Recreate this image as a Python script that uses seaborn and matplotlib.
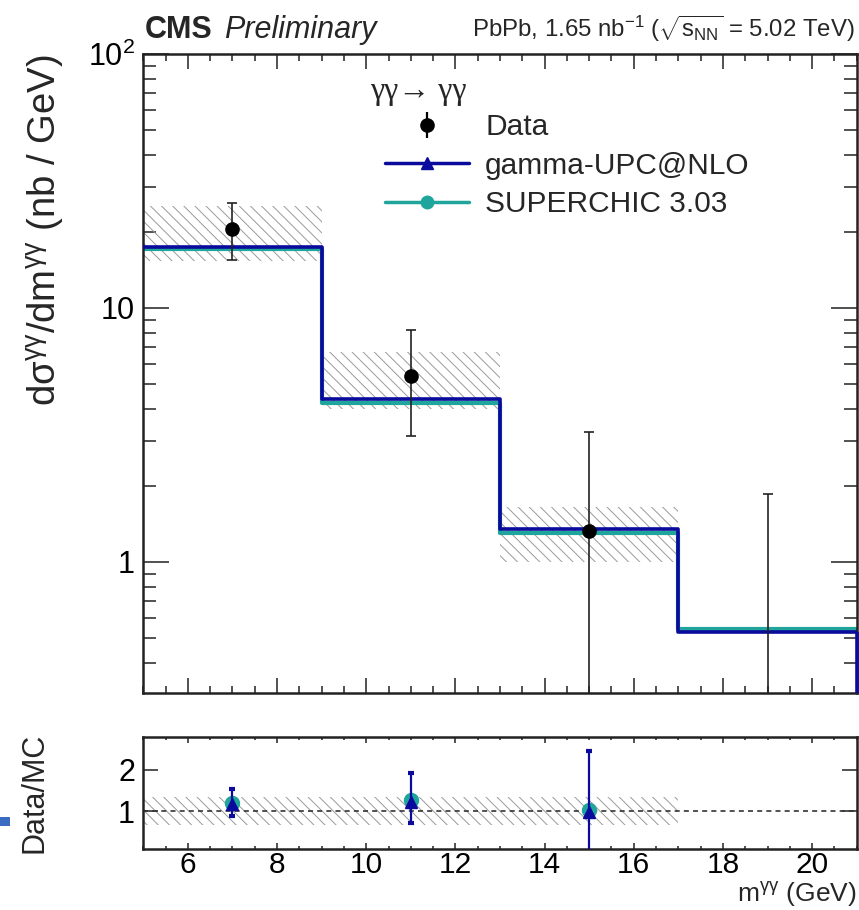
import numpy as np
import matplotlib
matplotlib.use("Agg")
import matplotlib.pyplot as plt
import seaborn as sns
from matplotlib.ticker import MultipleLocator, LogLocator, NullFormatter, FixedLocator, FuncFormatter
from matplotlib.lines import Line2D
from matplotlib.patches import Rectangle

# ---------------- data ----------------
bin_edges = [5, 9, 13, 17, 21]
bin_centers = [7, 11, 15, 19]
gamma_upc = [17.4, 4.40, 1.35, 0.53]
superchic = [17.0, 4.22, 1.30, 0.545]

data_x = [7, 11, 15, 19]
data_y = [20.5, 5.39, 1.33, 0.0]
data_err_up = [5.5, 2.8, 1.91, 1.86]
data_err_dn = [5.0, 2.27, 1.33, 0.0]

syst_centers = [7, 11, 15]
syst_lo = [15.3, 4.0, 1.0]
syst_hi = [25.1, 6.7, 1.64]

ratio_x = [7, 11, 15]
ratio_upc = [1.18, 1.22, 0.99]
ratio_sc = [1.21, 1.28, 1.03]
ratio_err_up = [0.36, 0.70, 1.46]
ratio_err_dn = [0.30, 0.51, 0.99]
ratio_band_lo = [0.66, 0.66, 0.66]
ratio_band_hi = [1.34, 1.34, 1.34]

x_ticks = [6, 8, 10, 12, 14, 16, 18, 20]

# ---------------- style ----------------
sns.set_theme(style="ticks")
plt.rcParams['font.family'] = ['Liberation Sans', 'DejaVu Sans']
plt.rcParams['mathtext.fontset'] = 'custom'
plt.rcParams['mathtext.rm'] = 'Liberation Sans'
plt.rcParams['mathtext.it'] = 'Liberation Sans:italic'
plt.rcParams['mathtext.bf'] = 'Liberation Sans:bold'
plt.rcParams['mathtext.default'] = 'regular'
plt.rcParams['hatch.linewidth'] = 0.7

NAVY = '#0a0a9c'
TEAL = '#1fa59c'
HATCH = '#9a9a9a'

W, H = 859, 910
fig = plt.figure(figsize=(W / 100, H / 100), dpi=100)
L, R = 143.3, 856.7
ax = fig.add_axes([L / W, 1 - 693.3 / H, (R - L) / W, (693.3 - 54) / H])
ax2 = fig.add_axes([L / W, 1 - 849.3 / H, (R - L) / W, (849.3 - 736.7) / H])

# ---------------- main panel ----------------
ax.bar(syst_centers, np.subtract(syst_hi, syst_lo), bottom=syst_lo, width=4,
       fill=False, hatch='\\\\\\', edgecolor=HATCH, linewidth=0, zorder=1)

sns.histplot(x=bin_centers, weights=superchic, bins=bin_edges, element="step",
             fill=False, color=TEAL, linewidth=3.0, ax=ax, zorder=2)
sns.histplot(x=bin_centers, weights=gamma_upc, bins=bin_edges, element="step",
             fill=False, color=NAVY, linewidth=2.6, ax=ax, zorder=3)

ax.set_yscale('log')
ymin, ymax = 0.304, 100
ax.set_ylim(ymin, ymax)
ax.set_xlim(bin_edges[0], bin_edges[-1])
ax.vlines(bin_edges[-1], ymin, gamma_upc[-1], color=NAVY, linewidth=2.6, zorder=3, clip_on=False)

ax.errorbar(data_x, data_y, yerr=[data_err_dn, data_err_up], fmt='o', color='black',
            ecolor='#222222', markersize=9.5, elinewidth=1.2, capsize=3.5, capthick=1.2, zorder=5)

ax.set_xlabel('')
ax.set_ylabel("dσ$^{γγ}$/dm$^{γγ}$ (nb / GeV)", fontsize=27.5, loc='top')
ax.yaxis.set_label_coords(-0.107, 1.0)

ax.yaxis.set_major_locator(FixedLocator([1, 10, 100]))
ax.yaxis.set_major_formatter(FuncFormatter(lambda v, p: {1: '1', 10: '10', 100: '10$^{2}$'}.get(int(round(v)), '')))
ax.yaxis.set_minor_locator(LogLocator(base=10, subs=np.arange(2, 10), numticks=20))
ax.yaxis.set_minor_formatter(NullFormatter())
ax.xaxis.set_major_locator(FixedLocator(x_ticks))
ax.xaxis.set_minor_locator(MultipleLocator(0.5))

ax.tick_params(which='both', direction='in', top=True, right=True, labelbottom=False,
               width=1.1, colors='#222222', labelcolor='black')
ax.tick_params(axis='y', which='major', length=18.5, labelsize=22, pad=6)
ax.tick_params(axis='y', which='minor', length=9.5)
ax.tick_params(axis='x', which='major', length=11)
ax.tick_params(axis='x', which='minor', length=5)
for s in ax.spines.values():
    s.set_linewidth(1.8)
    s.set_color('#222222')

data_handle = (Line2D([], [], color='black', marker='|', markersize=19, mew=1.6, linestyle='None'),
               Line2D([], [], color='black', marker='o', markersize=9.5, linestyle='None'))
handles = [
    data_handle,
    Line2D([], [], color=NAVY, lw=2.5, marker='^', markersize=9),
    Line2D([], [], color=TEAL, lw=2.5, marker='o', markersize=9),
]
labels = ['Data', 'gamma-UPC@NLO', 'SUPERCHIC 3.03']
leg = fig.legend(handles, labels, loc='upper left', bbox_to_anchor=(385 / W, 1 - 113 / H),
                 frameon=False, fontsize=21.5, handlelength=2.8, handletextpad=0.55,
                 labelspacing=0.36, borderpad=0, borderaxespad=0)
fig.text(370 / W, 1 - 99 / H, "γγ→ γγ", fontsize=23, family=['Liberation Serif', 'DejaVu Serif'],
         va='baseline', ha='left')

# ---------------- header ----------------
fig.text(145 / W, 1 - 38 / H, "CMS", fontsize=22, fontweight='bold', va='baseline', ha='left')
fig.text(224 / W, 1 - 38 / H, "Preliminary", fontsize=22, fontstyle='italic', va='baseline', ha='left')
fig.text(855 / W, 1 - 37 / H, r"PbPb, 1.65 nb$^{-1}$ ($\sqrt{s_{NN}}$ = 5.02 TeV)",
         fontsize=17.3, va='baseline', ha='right')

# ---------------- ratio panel ----------------
ax2.bar(ratio_x, np.subtract(ratio_band_hi, ratio_band_lo), bottom=ratio_band_lo, width=4,
        fill=False, hatch='\\\\\\', edgecolor=HATCH, linewidth=0, zorder=1)
ax2.axhline(1.0, color='#333333', linestyle=(0, (3, 2.5)), linewidth=1.2, zorder=2)
sns.scatterplot(x=ratio_x, y=ratio_sc, color=TEAL, s=105, marker='o', edgecolor=TEAL,
                ax=ax2, zorder=3, legend=False)
ax2.errorbar(ratio_x, ratio_upc, yerr=[ratio_err_dn, ratio_err_up], fmt='^', color=NAVY,
             markersize=9, elinewidth=1.6, capsize=2, capthick=3, zorder=4)

ax2.set_xlim(bin_edges[0], bin_edges[-1])
ax2.set_ylim(0.08, 2.8)
ax2.xaxis.set_major_locator(FixedLocator(x_ticks))
ax2.xaxis.set_minor_locator(MultipleLocator(0.5))
ax2.yaxis.set_major_locator(FixedLocator([1, 2]))
ax2.tick_params(which='both', direction='in', top=True, right=True,
                width=1.1, colors='#222222', labelcolor='black')
ax2.tick_params(axis='x', which='major', length=4.5, labelsize=21.5, pad=1.5)
ax2.tick_params(axis='x', which='minor', length=2.5)
ax2.tick_params(axis='y', which='major', length=10.5, labelsize=22, pad=6)
for s in ax2.spines.values():
    s.set_linewidth(1.8)
    s.set_color('#222222')

ax2.set_ylabel("Data/MC", fontsize=22)
ax2.yaxis.set_label_coords(-0.132, 0.5)
ax2.set_xlabel("m$^{γγ}$ (GeV)", fontsize=19, loc='right', va='bottom')
ax2.xaxis.set_label_coords(1.0, (849.3 - 909) / (849.3 - 736.7))

fig.add_artist(Rectangle((0, 1 - 826 / H), 10 / W, 9 / H, transform=fig.transFigure,
                         color='#3b6cc2', lw=0))

fig.savefig("out.png", dpi=100)
